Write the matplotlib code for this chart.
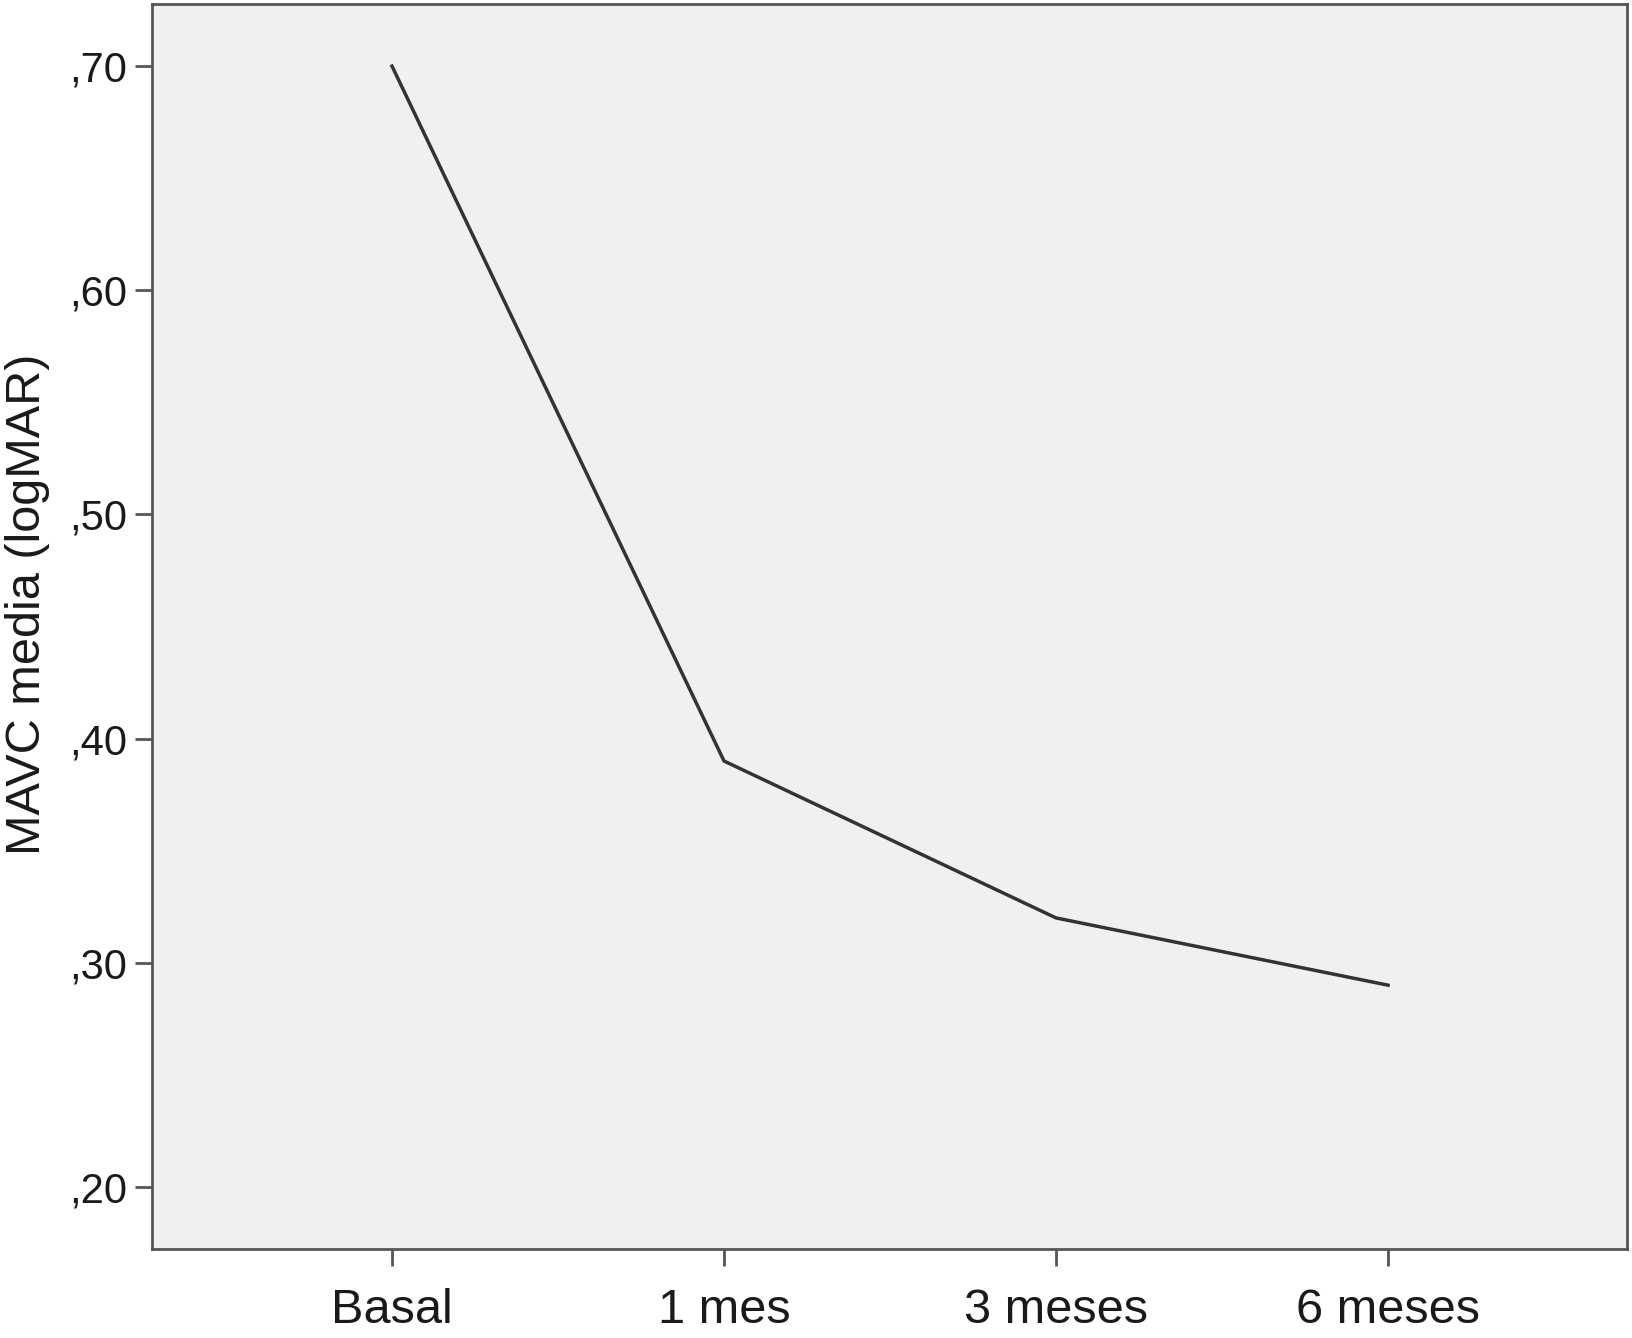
import matplotlib.pyplot as plt

plt.rcParams['font.family'] = ['Liberation Sans', 'DejaVu Sans']

## Data
periodos = ["Basal", "1 mes", "3 meses", "6 meses"]
mavc = [0.70, 0.39, 0.32, 0.29]
yticks = [0.20, 0.30, 0.40, 0.50, 0.60, 0.70]
ytick_labels = [",20", ",30", ",40", ",50", ",60", ",70"]

fig = plt.figure(figsize=(16.32, 13.38), dpi=100)
ax = fig.add_axes([0.0931, 0.0665, 0.9039, 0.9305])
ax.set_facecolor("#f0f0f0")

x = range(len(periodos))
ax.plot(x, mavc, color="#333333", linewidth=2.5)

ax.set_xlim(-0.723, 3.72)
ax.set_ylim(0.1723, 0.7277)
ax.set_xticks(list(x))
ax.set_xticklabels(periodos)
ax.set_yticks(yticks)
ax.set_yticklabels(ytick_labels)

for s in ax.spines.values():
    s.set_color("#555555")
    s.set_linewidth(2)
ax.tick_params(axis="both", length=12, width=2, color="#555555",
               labelcolor="#1a1a1a")
ax.tick_params(axis="x", pad=16, labelsize=35)
ax.tick_params(axis="y", pad=6, labelsize=30)

ax.set_ylabel("MAVC media (logMAR)", fontsize=35, color="#1a1a1a")
ax.yaxis.set_label_coords(-0.069, 0.518)

fig.savefig("out.png", dpi=100)
